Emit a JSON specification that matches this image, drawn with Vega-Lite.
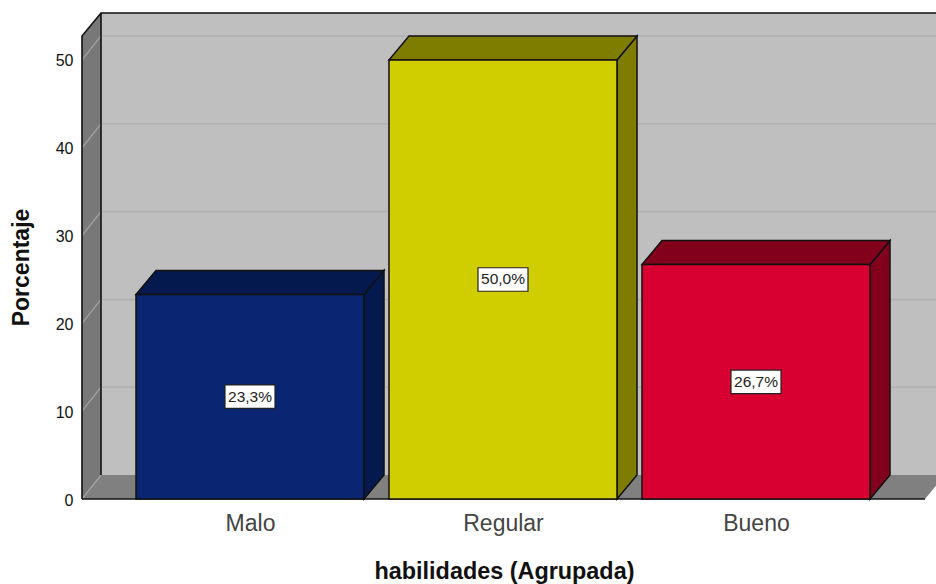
{
  "$schema": "https://vega.github.io/schema/vega-lite/v6.json",
  "width": 854,
  "height": 486,
  "padding": {"left": 82, "right": 0, "top": 13, "bottom": 85},
  "autosize": {"type": "none"},
  "background": "white",
  "config": {"view": {"stroke": null}, "font": "Liberation Sans"},
  "datasets": {
    "bars": [
      {"categoria": "Malo", "x": 0.5494, "x2": 1.4506, "centro": 1, "base": 0, "porcentaje": 23.3, "medio": 11.65, "etiqueta": "23,3%"},
      {"categoria": "Regular", "x": 1.5494, "x2": 2.4506, "centro": 2, "base": 0, "porcentaje": 50.0, "medio": 25.0, "etiqueta": "50,0%"},
      {"categoria": "Bueno", "x": 2.5494, "x2": 3.4506, "centro": 3, "base": 0, "porcentaje": 26.7, "medio": 13.35, "etiqueta": "26,7%"}
    ],
    "caras": [
      {"cara": "pared", "x": 0.4111, "y": 2.733, "y2": 55.35},
      {"cara": "pared", "x": 4.0, "y": 2.733, "y2": 55.35},
      {"cara": "izquierda", "x": 0.336, "y": 0, "y2": 52.73},
      {"cara": "izquierda", "x": 0.4111, "y": 2.733, "y2": 55.35},
      {"cara": "suelo", "x": 0.336, "y": 0, "y2": 0},
      {"cara": "suelo", "x": 0.4111, "y": 0, "y2": 2.733},
      {"cara": "suelo", "x": 3.668, "y": 0, "y2": 2.733},
      {"cara": "suelo", "x": 3.747, "y": 2.733, "y2": 2.733}
    ],
    "rejilla": [
      {"linea": "p10", "x": 0.4111, "y": 12.733}, {"linea": "p10", "x": 4.0, "y": 12.733},
      {"linea": "p20", "x": 0.4111, "y": 22.733}, {"linea": "p20", "x": 4.0, "y": 22.733},
      {"linea": "p30", "x": 0.4111, "y": 32.733}, {"linea": "p30", "x": 4.0, "y": 32.733},
      {"linea": "p40", "x": 0.4111, "y": 42.733}, {"linea": "p40", "x": 4.0, "y": 42.733},
      {"linea": "p50", "x": 0.4111, "y": 52.733}, {"linea": "p50", "x": 4.0, "y": 52.733}
    ],
    "rejillaIzquierda": [
      {"linea": "i0", "x": 0.336, "y": 0}, {"linea": "i0", "x": 0.4111, "y": 2.733},
      {"linea": "i10", "x": 0.336, "y": 10}, {"linea": "i10", "x": 0.4111, "y": 12.733},
      {"linea": "i20", "x": 0.336, "y": 20}, {"linea": "i20", "x": 0.4111, "y": 22.733},
      {"linea": "i30", "x": 0.336, "y": 30}, {"linea": "i30", "x": 0.4111, "y": 32.733},
      {"linea": "i40", "x": 0.336, "y": 40}, {"linea": "i40", "x": 0.4111, "y": 42.733},
      {"linea": "i50", "x": 0.336, "y": 50}, {"linea": "i50", "x": 0.4111, "y": 52.733}
    ],
    "aristas": [
      {"arista": "a", "orden": 1, "x": 0.336, "y": 0},
      {"arista": "a", "orden": 2, "x": 0.336, "y": 52.73},
      {"arista": "a", "orden": 3, "x": 0.4111, "y": 55.35},
      {"arista": "a", "orden": 4, "x": 4.0, "y": 55.35},
      {"arista": "b", "orden": 1, "x": 0.4111, "y": 2.733},
      {"arista": "b", "orden": 2, "x": 0.4111, "y": 55.35},
      {"arista": "c", "orden": 1, "x": 0.336, "y": 0},
      {"arista": "c", "orden": 2, "x": 3.668, "y": 0}
    ],
    "lados": [
      {"cara": "Malo", "x": 1.4506, "y": 0, "y2": 23.3},
      {"cara": "Malo", "x": 1.5297, "y": 2.733, "y2": 26.033},
      {"cara": "Regular", "x": 2.4506, "y": 0, "y2": 50},
      {"cara": "Regular", "x": 2.5297, "y": 2.733, "y2": 52.733},
      {"cara": "Bueno", "x": 3.4506, "y": 0, "y2": 26.7},
      {"cara": "Bueno", "x": 3.5297, "y": 2.733, "y2": 29.433},
      {"cara": "Malo tapa", "x": 0.5494, "y": 23.3, "y2": 23.3},
      {"cara": "Malo tapa", "x": 0.6285, "y": 23.3, "y2": 26.033},
      {"cara": "Malo tapa", "x": 1.4506, "y": 23.3, "y2": 26.033},
      {"cara": "Malo tapa", "x": 1.5297, "y": 26.033, "y2": 26.033},
      {"cara": "Regular tapa", "x": 1.5494, "y": 50, "y2": 50},
      {"cara": "Regular tapa", "x": 1.6285, "y": 50, "y2": 52.733},
      {"cara": "Regular tapa", "x": 2.4506, "y": 50, "y2": 52.733},
      {"cara": "Regular tapa", "x": 2.5297, "y": 52.733, "y2": 52.733},
      {"cara": "Bueno tapa", "x": 2.5494, "y": 26.7, "y2": 26.7},
      {"cara": "Bueno tapa", "x": 2.6285, "y": 26.7, "y2": 29.433},
      {"cara": "Bueno tapa", "x": 3.4506, "y": 26.7, "y2": 29.433},
      {"cara": "Bueno tapa", "x": 3.5297, "y": 29.433, "y2": 29.433}
    ]
  },
  "encoding": {
    "x": {
      "field": "x",
      "type": "quantitative",
      "scale": {"domain": [0.336, 3.7115], "nice": false, "zero": false},
      "axis": {
        "values": [1, 2, 3],
        "labelExpr": "['', 'Malo', 'Regular', 'Bueno'][datum.value]",
        "title": "habilidades (Agrupada)",
        "titleFontSize": 23.4,
        "titleFontWeight": "bold",
        "titleColor": "#111111",
        "titlePadding": 25,
        "titleX": 422,
        "labelFontSize": 23,
        "labelColor": "#444444",
        "labelPadding": 13,
        "domain": false,
        "ticks": false,
        "grid": false
      }
    },
    "y": {
      "field": "y",
      "type": "quantitative",
      "scale": {"domain": [0, 55.35], "nice": false},
      "axis": {
        "values": [0, 10, 20, 30, 40, 50],
        "title": "Porcentaje",
        "titleFontSize": 23,
        "titleFontWeight": "bold",
        "titleColor": "#111111",
        "titlePadding": 22,
        "titleY": 254,
        "labelFontSize": 16,
        "labelColor": "#111111",
        "labelPadding": 9,
        "labelOffset": 1,
        "domain": false,
        "ticks": false,
        "grid": false
      }
    }
  },
  "layer": [
    {
      "data": {"name": "caras"},
      "mark": {"type": "area", "clip": true},
      "encoding": {
        "y2": {"field": "y2"},
        "color": {
          "field": "cara",
          "type": "nominal",
          "legend": null,
          "scale": {"domain": ["pared", "izquierda", "suelo"], "range": ["#BFBFBF", "#787878", "#808080"]}
        }
      }
    },
    {
      "data": {"name": "rejilla"},
      "mark": {"type": "line", "stroke": "#B0B0B0", "strokeWidth": 1.5, "clip": true},
      "encoding": {"detail": {"field": "linea"}}
    },
    {
      "data": {"name": "rejillaIzquierda"},
      "mark": {"type": "line", "stroke": "#A6A6A6", "strokeWidth": 1.2, "clip": true},
      "encoding": {"detail": {"field": "linea"}}
    },
    {
      "data": {"name": "aristas"},
      "mark": {"type": "line", "stroke": "#111111", "strokeWidth": 1.6},
      "encoding": {"detail": {"field": "arista"}, "order": {"field": "orden"}}
    },
    {
      "data": {"name": "lados"},
      "mark": {"type": "area", "stroke": "#111111", "strokeWidth": 1.5},
      "encoding": {
        "y2": {"field": "y2"},
        "fill": {
          "field": "cara",
          "type": "nominal",
          "legend": null,
          "scale": {
            "domain": ["Malo", "Regular", "Bueno", "Malo tapa", "Regular tapa", "Bueno tapa"],
            "range": ["#041A4E", "#7F7D00", "#83001D", "#041A4E", "#7F7D00", "#83001D"]
          }
        },
        "detail": {"field": "cara"}
      }
    },
    {
      "data": {"name": "bars"},
      "mark": {"type": "rect", "stroke": "#111111", "strokeWidth": 1.5},
      "encoding": {
        "x2": {"field": "x2"},
        "y": {"field": "base", "type": "quantitative"},
        "y2": {"field": "porcentaje"},
        "fill": {
          "field": "categoria",
          "type": "nominal",
          "legend": null,
          "scale": {"domain": ["Malo", "Regular", "Bueno"], "range": ["#0A2672", "#D0CD00", "#D80030"]}
        }
      }
    },
    {
      "data": {"name": "bars"},
      "mark": {
        "type": "point",
        "shape": "M-1,-0.47H1V0.47H-1Z",
        "size": 2500,
        "filled": true,
        "fill": "white",
        "stroke": "#222222",
        "strokeWidth": 1.2,
        "opacity": 1
      },
      "encoding": {
        "x": {"field": "centro", "type": "quantitative"},
        "y": {"field": "medio", "type": "quantitative"}
      }
    },
    {
      "data": {"name": "bars"},
      "mark": {"type": "text", "fontSize": 15.5, "color": "#222222", "align": "center", "baseline": "middle"},
      "encoding": {
        "x": {"field": "centro", "type": "quantitative"},
        "y": {"field": "medio", "type": "quantitative"},
        "text": {"field": "etiqueta"}
      }
    }
  ],
  "resolve": {"scale": {"fill": "independent"}}
}
